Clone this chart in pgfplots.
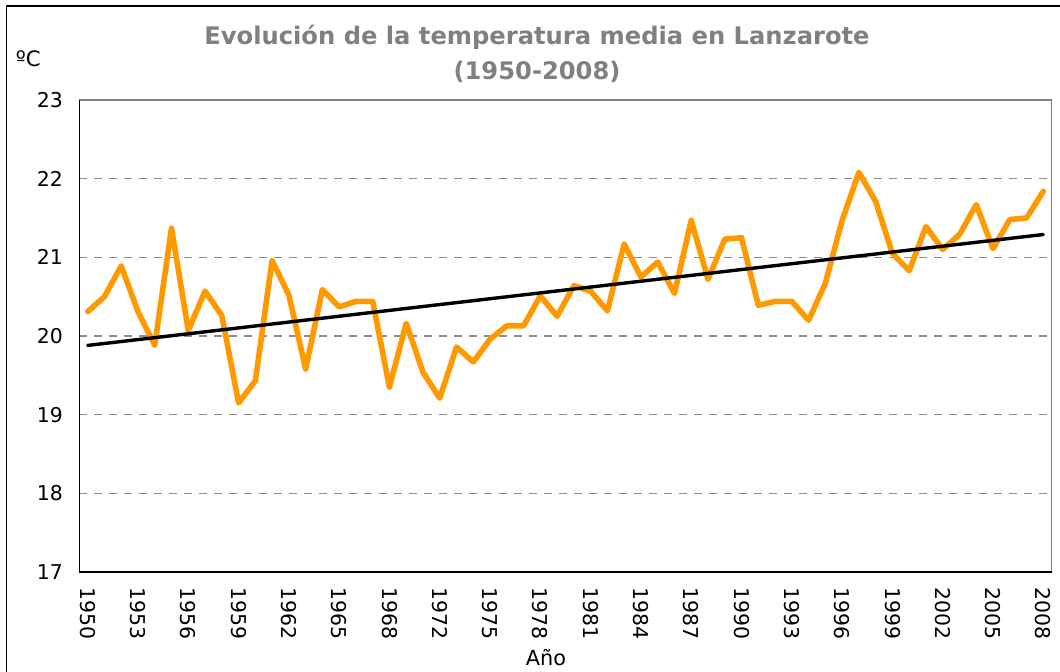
\documentclass[border=0pt]{standalone}
\usepackage{pgfplots}
\pgfplotsset{compat=1.18}
\usepackage{fontspec}
\setmainfont{DejaVu Sans}
\definecolor{linorange}{HTML}{FF9900}
\definecolor{titlegray}{HTML}{808080}
\definecolor{gridgray}{HTML}{8C8C8C}
\begin{document}
\begin{tikzpicture}
\useasboundingbox (0,0) rectangle (530pt,336pt);
\begin{axis}[
  at={(39.65pt,50pt)}, anchor=south west,
  scale only axis, width=486.2pt, height=236pt,
  xmin=-0.5, xmax=57.5, ymin=17, ymax=23,
  xtick={0,3,...,57},
  xticklabels={1950,1953,1956,1959,1962,1965,1968,1972,1975,1978,1981,1984,1987,1990,1993,1996,1999,2002,2005,2008},
  ytick={17,18,...,23},
  major tick length=0pt,
  /pgf/number format/assume math mode=true,
  tick label style={font=\fontsize{10.2}{12}\selectfont, black},
  xticklabel style={rotate=-90, anchor=west, inner sep=0pt, inner xsep=9pt, xshift=-1.5pt},
  yticklabel style={anchor=east, inner sep=0pt, inner xsep=8pt},
  ymajorgrids,
  major grid style={gridgray, line width=0.6pt, dash pattern=on 4pt off 3.5pt},
  axis line style={gray, line width=0.7pt},
  clip=false,
]
\addplot[linorange, line width=2.8pt, line join=round, line cap=round] coordinates {
(0,20.31) (1,20.50) (2,20.89) (3,20.31) (4,19.88) (5,21.37) (6,20.07) (7,20.57)
(8,20.26) (9,19.15) (10,19.43) (11,20.96) (12,20.52) (13,19.58) (14,20.59) (15,20.37)
(16,20.44) (17,20.44) (18,19.35) (19,20.16) (20,19.54) (21,19.21) (22,19.86) (23,19.67)
(24,19.96) (25,20.13) (26,20.13) (27,20.51) (28,20.25) (29,20.64) (30,20.57) (31,20.32)
(32,21.17) (33,20.75) (34,20.94) (35,20.54) (36,21.47) (37,20.72) (38,21.23) (39,21.25)
(40,20.39) (41,20.44) (42,20.44) (43,20.20) (44,20.67) (45,21.47) (46,22.08) (47,21.71)
(48,21.05) (49,20.83) (50,21.39) (51,21.10) (52,21.29) (53,21.67) (54,21.11) (55,21.48)
(56,21.50) (57,21.84)
};
\addplot[black, line width=1.7pt, line cap=round] coordinates {(0,19.88) (57,21.29)};
\draw[black, line width=0.7pt] (rel axis cs:0,1) -- (rel axis cs:0,0) -- (rel axis cs:1,0);
\end{axis}
\draw[black, line width=0.7pt] (3.35pt,0) -- (3.35pt,333pt) -- (530pt,333pt);
\node[anchor=base, text=titlegray, font=\bfseries\fontsize{12.1}{14}\selectfont, inner sep=0pt] at (268.5pt,313.5pt) {Evolución de la temperatura media en Lanzarote};
\node[anchor=base, text=titlegray, font=\bfseries\fontsize{12.1}{14}\selectfont, inner sep=0pt] at (268.5pt,296pt) {(1950-2008)};
\node[anchor=base west, font=\fontsize{10.6}{12}\selectfont, inner sep=0pt] at (7.8pt,302.5pt) {ºC};
\node[anchor=base, font=\fontsize{10.4}{12}\selectfont, inner sep=0pt] at (273pt,3pt) {Año};
\end{tikzpicture}
\end{document}
